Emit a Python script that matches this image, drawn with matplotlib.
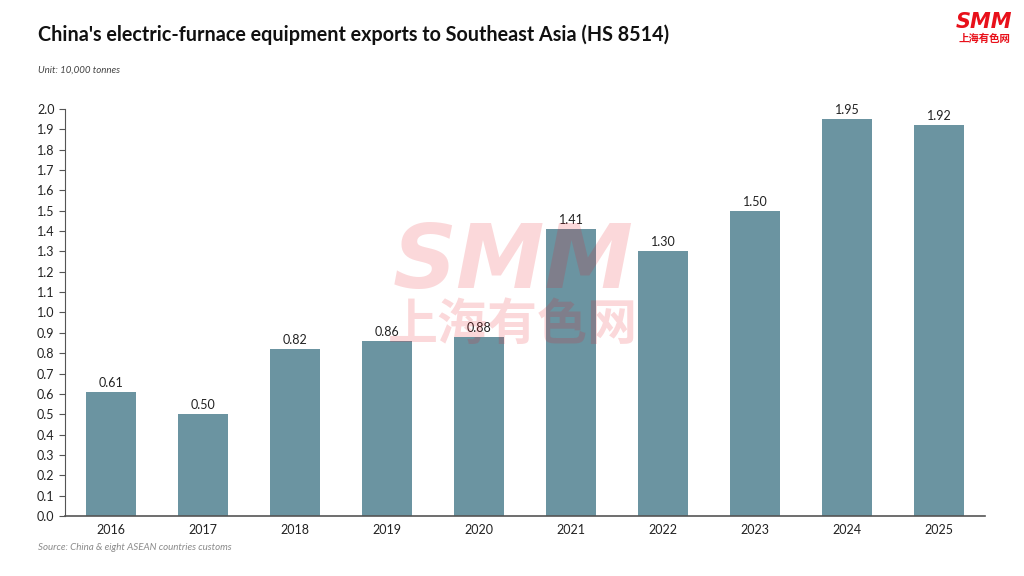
import numpy as np
import matplotlib.pyplot as plt

years = ['2016', '2017', '2018', '2019', '2020', '2021', '2022', '2023', '2024', '2025']
values = [0.61, 0.50, 0.82, 0.86, 0.88, 1.41, 1.30, 1.50, 1.95, 1.92]
yticks = np.round(np.arange(0, 2.01, 0.1), 1)

plt.rcParams['font.family'] = ['Lato', 'Noto Sans CJK SC', 'DejaVu Sans']

fig = plt.figure(figsize=(10.24, 5.76), dpi=100)
ax = fig.add_axes([0.0635, 0.1042, 0.8985, 0.7066])

x = np.arange(len(years))
bars = ax.bar(x, values, width=0.55, color='#6b94a1', zorder=2)
for xi, v in zip(x, values):
    ax.text(xi, v + 0.015, f'{v:.2f}', ha='center', va='bottom', fontsize=9, color='#222222')

ax.set_xlim(-0.5, len(years) - 0.5)
ax.set_ylim(0, 2.0)
ax.set_xticks(x)
ax.set_xticklabels(years, fontsize=9, color='#222222')
ax.set_yticks(yticks)
ax.set_yticklabels([f'{t:.1f}' for t in yticks], fontsize=9, color='#222222')
ax.tick_params(axis='x', length=0, pad=6)
ax.tick_params(axis='y', length=4, color='#555555', direction='out')
for s in ['top', 'right']:
    ax.spines[s].set_visible(False)
ax.spines['left'].set_color('#555555')
ax.spines['bottom'].set_color('#555555')
ax.spines['bottom'].set_linewidth(1.2)

# titles and notes
fig.text(0.037, 0.94, "China's electric-furnace equipment exports to Southeast Asia (HS 8514)",
         fontsize=14.2, fontweight='bold', color='#111111', ha='left', va='center')
fig.text(0.037, 0.878, 'Unit: 10,000 tonnes', fontsize=7, style='italic', color='#444444',
         ha='left', va='center')
fig.text(0.037, 0.05, 'Source: China & eight ASEAN countries customs', fontsize=7,
         style='italic', color='#8a8a8a', ha='left', va='center')

# logo
fig.text(0.961, 0.962, 'SMM', fontsize=15, fontweight='bold', style='italic', color='#e8101a',
         ha='center', va='center', family='DejaVu Sans')
fig.text(0.961, 0.932, '上海有色网', fontsize=7.5, fontweight='bold', color='#e8101a',
         ha='center', va='center', family=['Noto Sans CJK SC', 'DejaVu Sans'])

# watermark
fig.text(0.501, 0.542, 'SMM', fontsize=64, fontweight='bold', style='italic', color='#e8101a',
         alpha=0.16, ha='center', va='center', family='DejaVu Sans', zorder=5)
fig.text(0.501, 0.435, '上海有色网', fontsize=36, fontweight='bold', color='#e8101a',
         alpha=0.16, ha='center', va='center', family=['Noto Sans CJK SC', 'DejaVu Sans'], zorder=5)

fig.savefig('out.png', dpi=100)
